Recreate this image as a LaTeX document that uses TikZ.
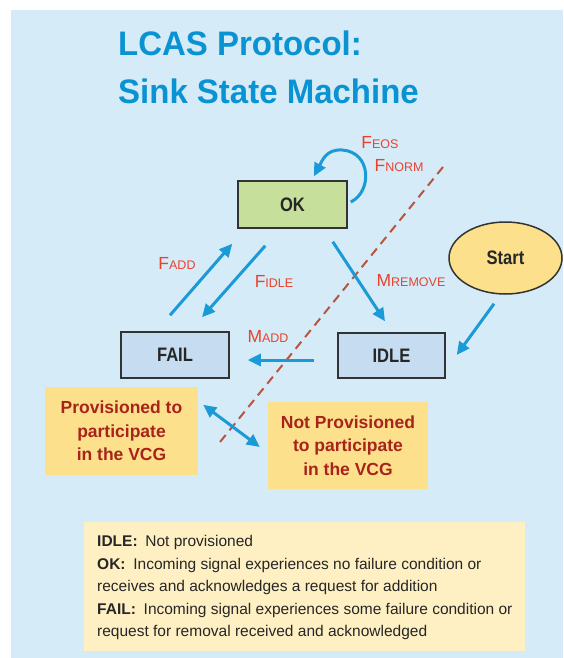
\documentclass[tikz,border=0pt]{standalone}
\usepackage{fontspec}
\setmainfont{Liberation Sans}
\newfontfamily\titlefont[FakeStretch=0.97]{Liberation Sans}
\newfontfamily\narrowfont[FakeStretch=0.85]{Liberation Sans}
\usepackage{xcolor}
\usetikzlibrary{arrows.meta, positioning, shapes.geometric}
\definecolor{bgblue}{HTML}{D5EBF8}
\definecolor{titleblue}{HTML}{0A93D2}
\definecolor{flowblue}{HTML}{1A9AD7}
\definecolor{okgreen}{HTML}{C6DF9B}
\definecolor{boxblue}{HTML}{C6DCF0}
\definecolor{noteyellow}{HTML}{FCE08C}
\definecolor{keyyellow}{HTML}{FFF0C4}
\definecolor{sigred}{HTML}{E8432F}
\definecolor{notered}{HTML}{A8231B}
\definecolor{divred}{HTML}{B9553E}
\newcommand{\sig}[2]{#1{\fontsize{12.5}{12.5}\selectfont #2}}

\begin{document}
\begin{tikzpicture}[x=1pt, y=-1pt, >={Triangle[length=13pt, width=12pt]},
  state/.style={draw=black!80, line width=1.5pt, minimum width=108pt, minimum height=46pt, inner sep=0pt, text=black!85, font=\narrowfont\bfseries\fontsize{19.5}{20}\selectfont},
  flow/.style={->, flowblue, line width=3pt},
  siglabel/.style={sigred, inner sep=0pt, font=\fontsize{17.5}{18}\selectfont},
  note/.style={fill=noteyellow, align=center, inner sep=0pt, text=notered, font=\bfseries\fontsize{17.5}{23.5}\selectfont}]
\useasboundingbox (0,0) rectangle (563,658);
\fill[bgblue] (11,10) rectangle (563,658);

% title
\node[anchor=base west, inner sep=0pt, text=titleblue, font=\titlefont\bfseries\fontsize{34}{34}\selectfont] (title1) at (118,56) {LCAS Protocol:};
\node[anchor=base west, inner sep=0pt, text=titleblue, font=\titlefont\bfseries\fontsize{34}{34}\selectfont] (title2) at (118,103) {Sink State Machine};

% provisioned / not provisioned divide
\coordinate (divtop) at (443,167);
\coordinate (divbot) at (220,442);
\draw[divred, line width=2pt, dash pattern=on 9pt off 6pt] (divtop) -- (divbot);

% states
\node[state, fill=okgreen, minimum width=109pt, minimum height=47pt] (ok) at (292.5,204.5) {OK};
\node[state, fill=boxblue] (fail) at (175,355) {FAIL};
\node[state, fill=boxblue, minimum width=107pt, minimum height=45pt] (idle) at (391.5,355.5) {IDLE};
\node[state, ellipse, fill=noteyellow, minimum width=113pt, minimum height=72pt] (start) at (505.5,258) {Start};

\node[note, minimum width=153pt, minimum height=88pt] (prov) at (121.5,431) {Provisioned to\\participate\\in the VCG};
\node[note, minimum width=160pt, minimum height=87pt] (notprov) at (348,445.5) {Not Provisioned\\to participate\\in the VCG};

% transitions
\draw[flow] ([shift={(3,-2.5)}]ok.east) .. controls (372,192) and (372,152) .. (342,150) .. controls (326,149) and (322,161) .. ([shift={(21.5,-4)}]ok.north);
\draw[flow] ([shift={(-5,-16)}]fail.north) -- ([shift={(-5,15)}]ok.south west);
\draw[flow] ([shift={(28,17)}]ok.south west) -- ([shift={(27,-14)}]fail.north);
\draw[flow] ([shift={(-15,13)}]ok.south east) -- ([shift={(-6.5,-11)}]idle.north);
\draw[flow] ([shift={(-23,4.5)}]idle.west) -- ([shift={(18,5)}]fail.east);
\draw[flow] ([shift={(-11.5,9)}]start.south) -- ([shift={(11,-0.5)}]idle.east);
\draw[flow, <->] ([shift={(5,18)}]prov.north east) -- ([shift={(-8,1.5)}]notprov.west);

\node[siglabel] (feos) at (380,143) {\sig{F}{EOS}};
\node[siglabel] (fnorm) at (399,166) {\sig{F}{NORM}};
\node[siglabel] (fadd) at (177,263) {\sig{F}{ADD}};
\node[siglabel] (fidle) at (274,281) {\sig{F}{IDLE}};
\node[siglabel] (mremove) at (411,281) {\sig{M}{REMOVE}};
\node[siglabel] (madd) at (268,336) {\sig{M}{ADD}};

% key
\node[fill=keyyellow, minimum width=441pt, minimum height=129pt, inner sep=0pt] (key) at (304.5,586.5) {};
\node[anchor=north west, align=left, inner sep=0pt, text=black!85, font=\fontsize{15.5}{22.5}\selectfont] (keytext) at (97,535.5) {\textbf{IDLE:}\enspace Not provisioned\\
\textbf{OK:}\enspace Incoming signal experiences no failure condition or\\
receives and acknowledges a request for addition\\
\textbf{FAIL:}\enspace Incoming signal experiences some failure condition or\\
request for removal received and acknowledged};
\end{tikzpicture}
\end{document}
